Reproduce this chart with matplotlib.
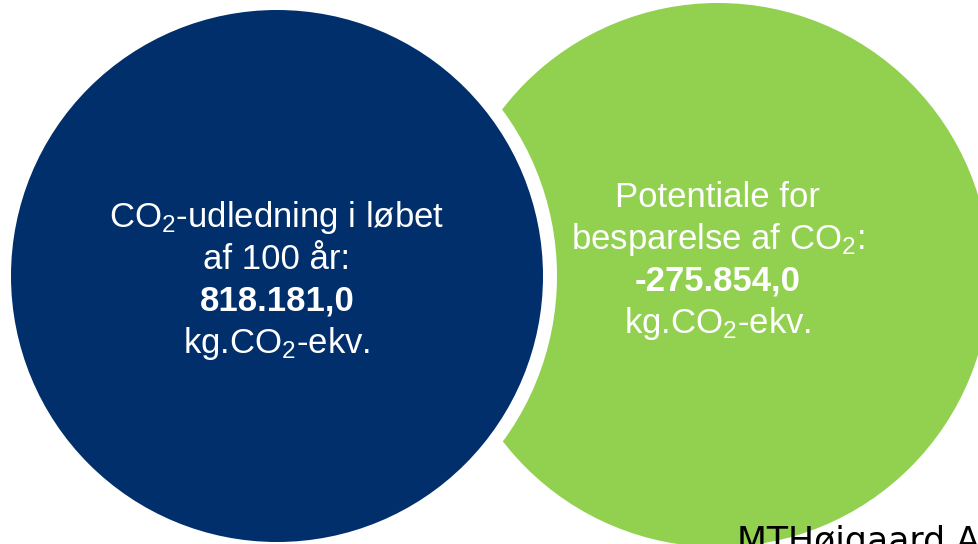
import matplotlib
matplotlib.use("Agg")
import matplotlib.pyplot as plt
from matplotlib.patches import Circle

plt.rcParams["mathtext.fontset"] = "custom"
plt.rcParams["mathtext.rm"] = "Liberation Sans"
plt.rcParams["mathtext.it"] = "Liberation Sans:italic"
plt.rcParams["mathtext.bf"] = "Liberation Sans:bold"

# Data
headings = [["CO$_2$-udledning i løbet", "af 100 år:"],
            ["Potentiale for", "besparelse af CO$_2$:"]]
values = [818181.0, -275854.0]
unit = "kg.CO$_2$-ekv."
colors = ["#002F6C", "#92D050"]
footer = "MTHøjgaard A"


def dk_number(v):
    # 818181.0 -> 818.181,0
    s = f"{v:,.1f}"
    return s.replace(",", "#").replace(".", ",").replace("#", ".")


fig = plt.figure(figsize=(9.79, 5.44), dpi=100)
ax = fig.add_axes([0, 0, 1, 1])
ax.set_xlim(0, 979)
ax.set_ylim(544, 0)
ax.set_aspect("equal")
ax.axis("off")

# green circle behind, navy circle with white ring on top
centres = [(277, 276), (718, 275)]
ax.add_patch(Circle(centres[1], 272, facecolor=colors[1], edgecolor="none"))
ax.add_patch(Circle(centres[0], 280, facecolor="white", edgecolor="none"))
ax.add_patch(Circle(centres[0], 266, facecolor=colors[0], edgecolor="none"))

first_base = [227, 207]
step = 42
for i in range(2):
    cx = centres[i][0]
    lines = headings[i] + [dk_number(values[i]), unit]
    for j, line in enumerate(lines):
        bold = j == 2
        ax.text(cx, first_base[i] + j * step, line, ha="center", va="baseline",
                color="white", fontsize=25, family="Liberation Sans",
                fontweight="bold" if bold else "normal")

# logo text, cut by the bottom/right edge as in the source picture
ax.text(737, 552, footer, ha="left", va="baseline", fontsize=25,
        family="DejaVu Sans", color="black")

fig.savefig("out.png", dpi=100)
